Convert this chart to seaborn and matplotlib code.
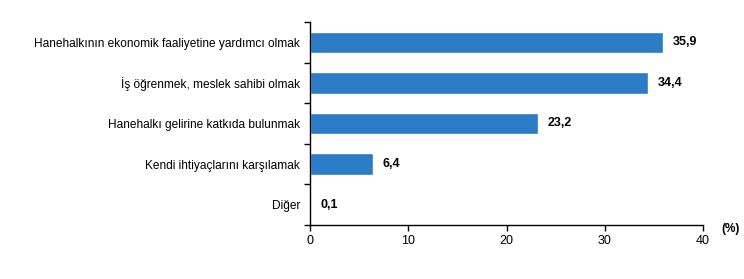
import matplotlib
matplotlib.use("Agg")
import matplotlib.pyplot as plt
import seaborn as sns
import pandas as pd

categories = [
    "Hanehalkının ekonomik faaliyetine yardımcı olmak",
    "İş öğrenmek, meslek sahibi olmak",
    "Hanehalkı gelirine katkıda bulunmak",
    "Kendi ihtiyaçlarını karşılamak",
    "Diğer",
]
values = [35.9, 34.4, 23.2, 6.4, 0.1]
value_labels = ["35,9", "34,4", "23,2", "6,4", "0,1"]
x_ticks = [0, 10, 20, 30, 40]

sns.set_theme(style="white")
plt.rcParams['font.family'] = ['Liberation Sans', 'DejaVu Sans']
plt.rcParams['text.color'] = 'black'
plt.rcParams['xtick.color'] = 'black'
plt.rcParams['ytick.color'] = 'black'

df = pd.DataFrame({"cat": categories, "val": values})

fig = plt.figure(figsize=(7.44, 2.79), dpi=100)
ax = fig.add_axes([310/744, (279-225)/279, (703-310)/744, (225-22)/279])
sns.barplot(data=df, y="cat", x="val", color="#2B7BC6", width=0.53,
            saturation=1, ax=ax, orient="h")

ax.set_xlim(0, 40)
ax.set_ylim(4.5, -0.5)
ax.set_xticks(x_ticks)
ax.set_xticklabels([str(t) for t in x_ticks], fontsize=9)
ax.set_yticks(range(len(categories)))
ax.set_yticklabels(categories, fontsize=8.6)
ax.set_xlabel("")
ax.set_ylabel("")

for s in ["top", "right"]:
    ax.spines[s].set_visible(False)
for s in ["left", "bottom"]:
    ax.spines[s].set_color("black")
    ax.spines[s].set_linewidth(1.0)

# y tick marks at category boundaries
ax.set_yticks([i - 0.5 for i in range(len(categories) + 1)], minor=True)
ax.tick_params(axis="y", which="major", length=0, pad=7)
ax.tick_params(axis="y", which="minor", length=4, width=1, color="black", left=True)
ax.tick_params(axis="x", which="major", length=4, width=1, color="black", bottom=True, pad=3)

for i, (v, lab) in enumerate(zip(values, value_labels)):
    ax.text(v + 1.0, i, lab, va="center", ha="left", fontsize=9,
            fontweight="bold", color="black")

ax.text(1.07, -0.02, "(%)", transform=ax.transAxes, fontsize=8.5,
        fontweight="bold", ha="center", va="center", color="black")

fig.savefig("out.png", dpi=100)
